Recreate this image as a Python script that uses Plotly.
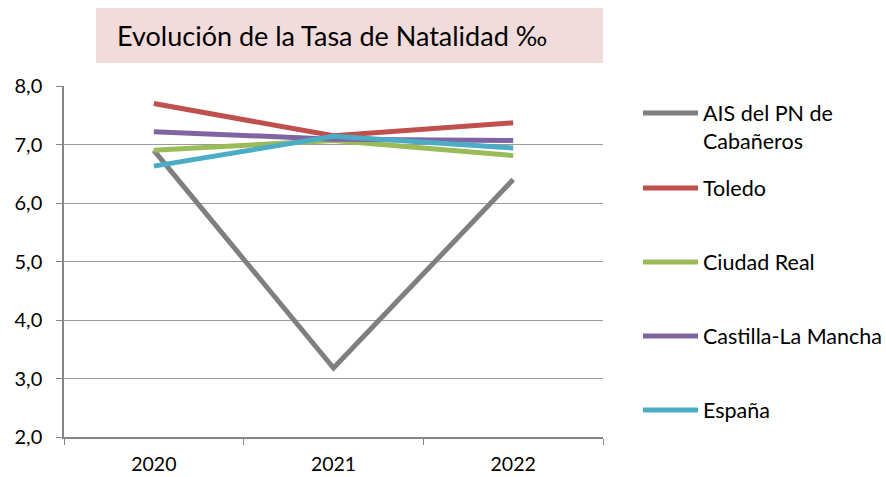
import plotly.graph_objects as go

years = ["2020", "2021", "2022"]
series_names = ["AIS del PN de<br>Cabañeros", "Toledo", "Ciudad Real", "Castilla-La Mancha", "España"]
ais = [6.9, 3.18, 6.4]
toledo = [7.7, 7.15, 7.37]
ciudad_real = [6.9, 7.07, 6.81]
clm = [7.22, 7.09, 7.07]
espana = [6.63, 7.14, 6.94]
colors = ["#7f7f7f", "#c0504d", "#9bbb59", "#8064a2", "#4bacc6"]
y_ticks = [2, 3, 4, 5, 6, 7, 8]
title_text = "Evolución de la Tasa de Natalidad ‰"

FONT = "Lato"
W, H = 886, 477
L, R, T, B = 64, 283, 86, 40
PW, PH = W - L - R, H - T - B

def px_x(x):
    return (x - L) / PW

def px_y(y):
    return (H - B - y) / PH

legend_centers = [127, 188, 262, 336, 410]
legend_names = ["legend", "legend2", "legend3", "legend4", "legend5"]

fig = go.Figure()
for i, (name, vals) in enumerate(zip(series_names, [ais, toledo, ciudad_real, clm, espana])):
    fig.add_trace(go.Scatter(
        x=years, y=vals, mode="lines", name=name,
        line=dict(color=colors[i], width=5),
        legend=legend_names[i],
    ))

legend_layout = {}
for i, ln in enumerate(legend_names):
    legend_layout[ln] = dict(
        x=px_x(638), y=px_y(legend_centers[i]), xanchor="left", yanchor="middle",
        valign="top", itemwidth=55, font=dict(family=FONT, size=21.5, color="#000000"),
        bgcolor="rgba(0,0,0,0)", borderwidth=0,
    )

fig.update_layout(
    width=W, height=H,
    margin=dict(l=L, r=R, t=T, b=B, autoexpand=False),
    paper_bgcolor="white", plot_bgcolor="white",
    separators=",.",
    font=dict(family=FONT, size=19.5, color="#000000"),
    showlegend=True,
    xaxis=dict(
        type="category", range=[-0.5, 2.5], tickson="boundaries", ticks="outside", ticklen=6,
        tickcolor="#868686", showline=True, linecolor="#868686", linewidth=1.5,
        showgrid=False, tickfont=dict(family=FONT, size=19.5), ticklabelstandoff=9,
    ),
    yaxis=dict(
        range=[2, 8], tickvals=y_ticks, tickformat=".1f", ticks="outside", ticklen=6,
        tickcolor="#868686", showline=True, linecolor="#868686", linewidth=1.5,
        showgrid=True, gridcolor="#9a9a9a", gridwidth=1.2, zeroline=False,
        tickfont=dict(family=FONT, size=20), ticklabelstandoff=10,
    ),
    shapes=[dict(type="rect", xref="paper", yref="paper",
                 x0=px_x(96), x1=px_x(603), y0=px_y(63), y1=px_y(8),
                 fillcolor="#f2dcdb", line=dict(width=0), layer="below")],
    annotations=[dict(text=title_text, xref="paper", yref="paper",
                      x=px_x(115), y=px_y(36),
                      xanchor="left", yanchor="middle", showarrow=False,
                      font=dict(family=FONT, size=27, color="#000000"))],
    **legend_layout,
)

fig.write_html("out.html", config={"displayModeBar": False},
               post_script="document.body.style.margin='0';")
